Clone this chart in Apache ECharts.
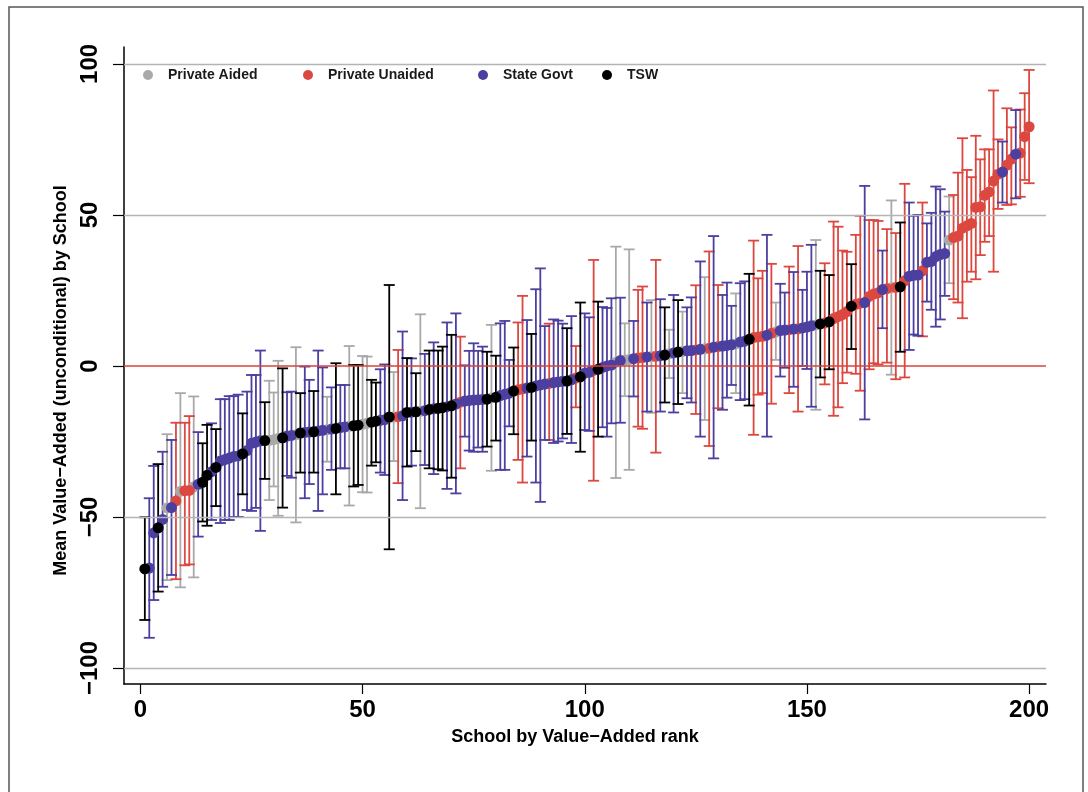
<!DOCTYPE html>
<html>
<head>
<meta charset="utf-8">
<script src="https://cdn.jsdelivr.net/npm/echarts@6/dist/echarts.min.js"></script>
<style>
html,body{margin:0;padding:0;background:#fff;}
#chart{width:1088px;height:792px;}
</style>
</head>
<body>
<div id="chart"></div>
<script>
// ---------- DATA ----------
const typeNames = { A: 'Private Aided', U: 'Private Unaided', S: 'State Govt', T: 'TSW' };
const typeColors = { A: '#a9a9a9', U: '#dc4840', S: '#4b3f9f', T: '#000000' };
const typeOrder = ['A', 'U', 'S', 'T'];

// school type by rank 1..200
const schoolType = [
  'T','S','S','T','S','A','S','U','A','U',
  'U','A','S','T','T','S','T','S','S','S',
  'S','S','T','S','S','S','S','T','A','A',
  'A','T','S','S','A','T','S','S','T','S',
  'S','A','S','T','S','S','A','T','T','A',
  'A','T','T','S','S','T','A','U','S','T',
  'S','T','A','S','T','S','T','T','S','T',
  'S','U','S','S','S','S','S','T','A','T',
  'S','S','S','T','U','U','S','T','S','S',
  'S','U','S','S','S','T','S','U','T','S',
  'S','U','T','S','S','S','A','S','A','A',
  'S','U','U','S','A','U','S','T','A','S',
  'T','A','S','S','U','S','A','U','S','U',
  'S','S','S','A','S','S','T','U','U','U',
  'S','U','A','S','S','U','S','U','S','S',
  'S','A','T','U','T','U','U','U','U','T',
  'U','U','S','U','U','U','S','U','A','U',
  'T','U','S','S','S','U','S','S','S','S',
  'S','A','U','U','U','U','U','U','U','U',
  'U','U','U','S','U','U','S','U','U','U'
];

// mean value-added by rank 1..200
const meanVA = [
  -67.2,-66.9,-55.3,-53.6,-50.8,-47.0,-46.9,-44.7,-41.5,-41.3,
  -41.2,-40.0,-39.2,-38.5,-36.2,-35.0,-33.6,-31.5,-31.0,-30.5,
  -30.0,-29.8,-29.1,-28.0,-25.6,-25.2,-24.8,-24.7,-24.6,-24.4,
  -24.0,-23.8,-23.2,-23.0,-22.8,-22.2,-22.0,-21.9,-21.8,-21.5,
  -21.3,-21.1,-20.9,-20.7,-20.4,-20.2,-20.0,-19.8,-19.6,-19.3,
  -19.0,-18.6,-18.3,-18.0,-17.8,-16.9,-16.9,-16.8,-16.5,-15.4,
  -15.3,-15.2,-15.0,-14.8,-14.4,-14.2,-14.0,-13.8,-13.5,-13.2,
  -12.6,-12.0,-11.6,-11.4,-11.3,-11.2,-11.1,-11.0,-10.6,-10.4,
  -9.8,-9.4,-9.0,-8.3,-7.9,-7.6,-7.3,-7.1,-6.6,-6.3,
  -6.0,-5.8,-5.5,-5.3,-5.1,-5.0,-4.6,-4.0,-3.6,-2.4,
  -2.1,-1.5,-1.1,-0.5,0.0,0.3,1.2,1.8,2.0,2.1,
  2.4,2.6,2.8,3.0,3.1,3.2,3.4,3.6,4.0,4.3,
  4.6,4.8,5.0,5.1,5.3,5.5,5.7,5.9,6.2,6.4,
  6.6,6.8,7.0,7.3,7.9,8.2,8.8,9.4,9.6,9.8,
  10.2,10.8,11.2,11.7,11.9,12.0,12.2,12.3,12.6,12.9,
  13.3,13.6,13.9,14.2,14.6,15.7,16.3,17.0,18.0,19.8,
  20.4,20.8,21.0,23.0,23.8,24.2,25.3,25.6,25.9,26.0,
  26.2,28.2,29.7,30.0,30.1,31.5,34.3,34.6,36.2,36.9,
  37.2,41.7,42.5,43.0,45.6,46.4,47.2,52.5,52.7,56.5,
  57.6,61.2,63.5,64.2,66.5,68.5,70.1,70.5,75.9,79.2
];

// lower end of the interval
const lowerCI = [
  -84.1,-90.0,-77.5,-74.7,-73.1,-70.9,-69.2,-70.6,-73.3,-66.0,
  -65.7,-70.0,-56.5,-51.5,-52.9,-51.0,-46.4,-52.0,-51.0,-51.0,
  -50.0,-50.0,-42.5,-47.7,-48.0,-47.0,-54.6,-37.4,-44.4,-39.9,
  -49.6,-46.9,-36.4,-37.0,-51.8,-35.3,-43.8,-39.1,-35.3,-48.0,
  -42.5,-31.7,-34.4,-42.5,-33.9,-33.9,-46.2,-39.9,-39.4,-41.8,
  -41.9,-33.0,-31.9,-35.3,-36.1,-60.7,-31.5,-38.8,-44.4,-33.3,
  -33.0,-28.2,-47.1,-32.8,-33.9,-35.8,-34.2,-34.6,-40.7,-37.0,
  -42.2,-33.9,-23.4,-28.0,-28.4,-27.0,-28.4,-26.7,-34.7,-24.7,
  -34.4,-34.4,-20.0,-22.6,-31.1,-38.6,-30.0,-24.7,-38.6,-45.0,
  -24.5,-24.5,-25.5,-25.0,-24.0,-22.5,-25.5,-13.7,-28.4,-21.2,
  -21.5,-38.0,-23.4,-20.3,-23.4,-19.0,-37.1,-18.8,-10.0,-34.4,
  -10.1,-20.1,-20.8,-15.1,-15.5,-28.7,-15.1,-12.1,-4.0,-15.4,
  -12.6,-9.0,-10.7,-12.1,-15.9,-23.4,-17.9,-26.5,-30.6,-14.0,
  -14.5,-10.5,-6.3,-9.0,-11.3,-11.0,-13.1,-22.8,-9.5,-9.0,
  -23.4,-12.5,2.0,-3.5,-0.6,-9.0,-6.9,-15.1,0.0,-1.0,
  -13.5,-14.5,-3.8,-6.1,-1.1,-16.5,-13.7,-5.7,-2.2,5.6,
  -2.6,-8.2,-17.7,-1.1,0.9,0.5,12.5,1.1,-2.9,-4.4,
  4.7,-3.8,5.3,10.4,10.0,9.8,21.3,18.6,13.0,15.4,
  23.2,27.4,22.1,21.0,15.8,27.9,31.2,28.7,36.7,41.1,
  43.0,31.2,52.0,54.1,53.3,53.5,55.5,56.0,61.6,60.5
];

// upper end of the interval
const upperCI = [
  -50.1,-43.8,-33.1,-32.5,-28.4,-22.6,-24.5,-18.8,-9.0,-18.8,
  -16.6,-10.1,-21.9,-25.6,-19.5,-19.0,-20.9,-11.0,-11.0,-10.0,
  -10.0,-9.5,-15.7,-8.5,-3.0,-3.0,5.1,-12.0,-4.9,-8.8,
  1.7,-0.8,-8.7,-8.5,6.2,-9.0,-0.2,-4.6,-8.3,5.1,
  -0.5,-10.2,-7.1,0.9,-6.3,-6.3,6.6,0.3,0.3,3.3,
  3.1,-4.6,-5.5,-1.1,0.5,26.8,-2.0,5.3,11.4,2.6,
  2.5,-2.4,17.1,4.0,5.1,7.8,5.1,6.4,14.4,10.3,
  17.4,9.7,0.2,5.0,7.5,5.0,6.4,4.7,13.6,3.4,
  14.1,14.9,2.0,6.1,14.4,23.2,15.2,10.6,25.4,32.3,
  13.2,14.0,15.4,15.0,14.0,12.5,16.5,6.6,21.0,17.4,
  16.1,35.1,21.3,19.5,19.2,22.4,39.5,22.6,14.1,38.6,
  14.9,25.2,26.3,21.0,21.8,35.1,22.1,19.4,12.0,23.5,
  21.8,18.0,19.4,22.7,26.7,34.6,29.4,37.9,43.0,26.8,
  23.5,27.6,19.9,24.0,27.4,28.0,30.5,41.5,29.0,31.5,
  43.4,33.8,21.0,27.2,24.3,32.9,31.1,39.7,25.2,31.2,
  40.1,41.7,31.5,34.0,30.1,47.8,46.1,38.2,37.8,33.7,
  43.4,49.7,59.6,48.3,48.3,48.0,38.2,45.3,54.8,44.0,
  47.5,60.3,54.1,49.7,50.0,54.1,47.2,50.7,59.4,58.5,
  51.1,56.1,56.6,64.0,75.4,64.9,62.5,76.2,68.4,71.7,
  71.7,91.2,75.0,74.3,85.3,79.0,84.7,84.9,90.3,98.0
];

const yTicks = [-100, -50, 0, 50, 100];
const xTicks = [0, 50, 100, 150, 200];
const gridValues = [-100, -50, 50, 100];

// ---------- CHART ----------
const FONT = "'Liberation Sans', Arial, sans-serif";
const chart = echarts.init(document.getElementById('chart'));

function rowsFor(code) {
  const out = [];
  for (let i = 0; i < meanVA.length; i++) {
    if (schoolType[i] === code) out.push([i + 1, meanVA[i], lowerCI[i], upperCI[i]]);
  }
  return out;
}

const series = [];
typeOrder.forEach(code => {
  const color = typeColors[code];
  series.push({
    name: typeNames[code],
    type: 'custom',
    z: 2,
    silent: true,
    data: rowsFor(code).map(r => [r[0], r[2], r[3]]),
    encode: { x: 0, y: [1, 2] },
    renderItem: function (params, api) {
      const x = api.value(0);
      const pLo = api.coord([x, api.value(1)]);
      const pHi = api.coord([x, api.value(2)]);
      const hw = 5.5;
      const st = { stroke: color, lineWidth: 1.8 };
      return {
        type: 'group',
        children: [
          { type: 'line', shape: { x1: pLo[0], y1: pLo[1], x2: pHi[0], y2: pHi[1] }, style: st },
          { type: 'line', shape: { x1: pLo[0] - hw, y1: pLo[1], x2: pLo[0] + hw, y2: pLo[1] }, style: st },
          { type: 'line', shape: { x1: pHi[0] - hw, y1: pHi[1], x2: pHi[0] + hw, y2: pHi[1] }, style: st }
        ]
      };
    }
  });
});
typeOrder.forEach(code => {
  series.push({
    name: typeNames[code],
    type: 'scatter',
    z: 3,
    symbol: 'circle',
    symbolSize: 11,
    itemStyle: { color: typeColors[code], opacity: 1 },
    data: rowsFor(code).map(r => [r[0], r[1]])
  });
});
// reference lines
series.push({
  type: 'line',
  data: [],
  silent: true,
  z: 1,
  markLine: {
    silent: true,
    symbol: 'none',
    label: { show: false },
    animation: false,
    data: gridValues.map(v => ({ yAxis: v, lineStyle: { color: '#b4b4b4', width: 1.3, type: 'solid' } }))
      .concat([{ yAxis: 0, lineStyle: { color: '#d9433b', width: 1.5, type: 'solid' } }])
  }
});

const legendPos = [
  { code: 'A', left: 143 },
  { code: 'U', left: 303 },
  { code: 'S', left: 478 },
  { code: 'T', left: 602 }
];

const option = {
  backgroundColor: '#ffffff',
  animation: false,
  grid: { left: 124, right: 42, top: 47, bottom: 108, containLabel: false },
  legend: legendPos.map(p => ({
    data: [{ name: typeNames[p.code], icon: 'circle', itemStyle: { color: typeColors[p.code] } }],
    left: p.left,
    top: 68,
    itemWidth: 10,
    itemHeight: 10,
    padding: 0,
    selectedMode: false,
    textStyle: { fontFamily: FONT, fontWeight: 'bold', fontSize: 14, color: '#1a1a1a', padding: [0, 0, 0, 10] }
  })),
  xAxis: {
    type: 'value',
    min: -3.69,
    max: 203.8,
    splitLine: { show: false },
    axisLine: { show: true, onZero: false, lineStyle: { color: '#000', width: 1.5 } },
    axisTick: { show: true, length: 10, customValues: xTicks, lineStyle: { color: '#000', width: 1.2 } },
    axisLabel: {
      customValues: xTicks, margin: 14,
      fontFamily: FONT, fontWeight: 'bold', fontSize: 24, color: '#000'
    },
    name: 'School by Value\u2212Added rank',
    nameLocation: 'middle',
    nameGap: 44,
    nameTextStyle: { fontFamily: FONT, fontWeight: 'bold', fontSize: 18, color: '#000', padding: [0, 20, 0, 0] }
  },
  yAxis: {
    type: 'value',
    min: -105.3,
    max: 105.6,
    splitLine: { show: false },
    axisLine: { show: true, onZero: false, lineStyle: { color: '#000', width: 1.5 } },
    axisTick: { show: true, length: 11, customValues: yTicks, lineStyle: { color: '#000', width: 1.2 } },
    axisLabel: {
      customValues: yTicks, rotate: 90, margin: 22,
      fontFamily: FONT, fontWeight: 'bold', fontSize: 24, color: '#000',
      formatter: v => String(v).replace('-', '\u2212')
    },
    name: 'Mean Value\u2212Added (unconditional) by School',
    nameLocation: 'middle',
    nameRotate: 90,
    nameGap: 54,
    nameTextStyle: { fontFamily: FONT, fontWeight: 'bold', fontSize: 18, color: '#000', padding: [0, 30, 0, 0] }
  },
  graphic: [{
    type: 'rect',
    silent: true,
    z: -1,
    shape: { x: 9, y: 7, width: 1074, height: 800 },
    style: { fill: 'none', stroke: '#555555', lineWidth: 1.5 }
  }],
  series: series
};
chart.setOption(option);
</script>
</body>
</html>
